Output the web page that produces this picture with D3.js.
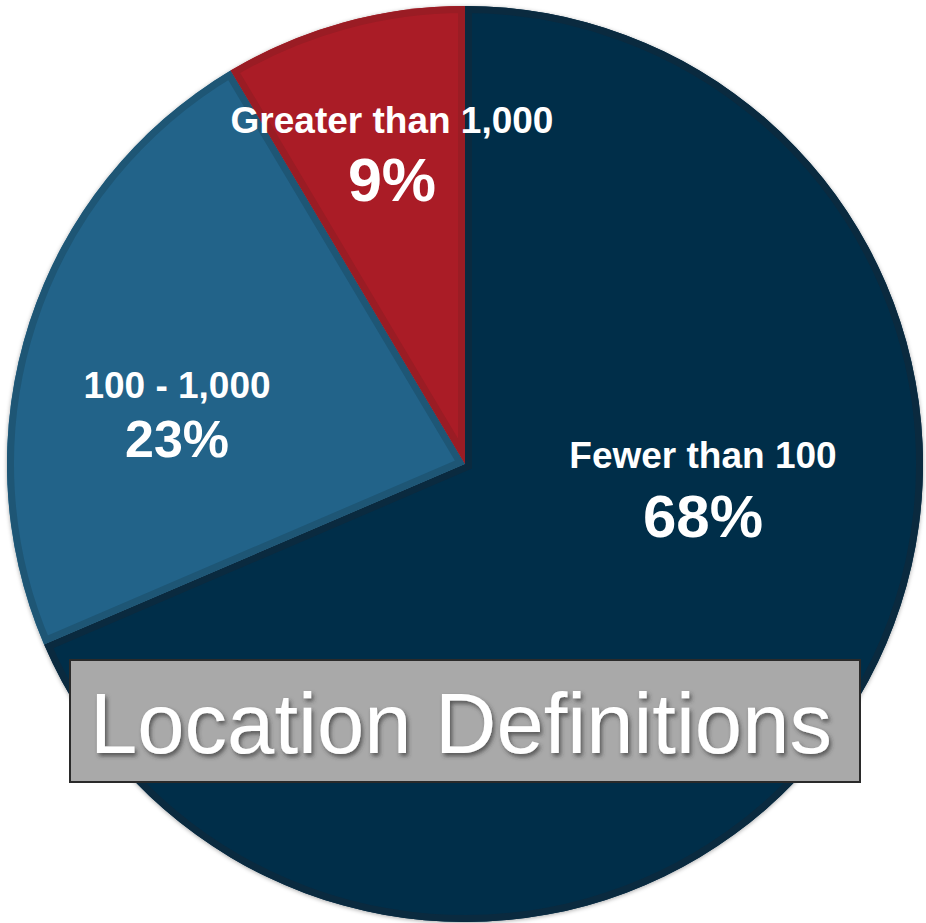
<!DOCTYPE html>
<html>
<head>
<meta charset="utf-8">
<script src="https://cdn.jsdelivr.net/npm/d3@7"></script>
<style>
  body { margin: 0; background: #fff; }
  text { font-family: "Liberation Sans", Arial, sans-serif; }
</style>
</head>
<body>
<script>
// slice data
var categories = ["Fewer than 100", "100 - 1,000", "Greater than 1,000"];
var shares = [68, 23, 9];              // printed percentages
var sliceValues = [68.55, 22.9, 8.55]; // slice sizes as drawn in the picture
var colors = ["#042f4a", "#236489", "#aa1f27"];
var edgeColors = ["#0a2a3f", "#1e5675", "#9a1c24"];
var title = "Location Definitions";

// label anchor spots (center x, baseline of name line)
var labelPos = [[703, 468], [177, 398], [392, 133]];
var pctSize = [60, 52, 61];
var pctGap = [69, 59, 68];

var width = 926,
    height = 923,
    cx = 465,
    cy = 464,
    radius = 458;

var svg = d3.select("body")
    .append("svg")
    .attr("width", width)
    .attr("height", height);

var defs = svg.append("defs");

// soft shadow for the title text
var sh = defs.append("filter").attr("id", "txtShadow")
    .attr("x", "-10%").attr("y", "-10%").attr("width", "120%").attr("height", "130%");
sh.append("feDropShadow")
    .attr("dx", 2).attr("dy", 3).attr("stdDeviation", 2)
    .attr("flood-color", "#333").attr("flood-opacity", 0.7);

var pieShadow = defs.append("filter").attr("id", "pieShadow")
    .attr("x", "-5%").attr("y", "-5%").attr("width", "110%").attr("height", "110%");
pieShadow.append("feDropShadow")
    .attr("dx", 0).attr("dy", 1).attr("stdDeviation", 2)
    .attr("flood-color", "#000").attr("flood-opacity", 0.35);

var pie = d3.pie().sort(null).value(function(d){ return d; });
var arcs = pie(sliceValues);

var arc = d3.arc().innerRadius(0).outerRadius(radius);

var g = svg.append("g")
    .attr("transform", "translate(" + cx + "," + cy + ")");

// clip paths so the darker rim sits inside each slice
defs.selectAll("clipPath.slice")
    .data(arcs)
    .enter()
    .append("clipPath")
    .attr("class", "slice")
    .attr("id", function(d, i){ return "clip" + i; })
    .append("path")
    .attr("transform", "translate(" + cx + "," + cy + ")")
    .attr("d", arc);

g.selectAll(".slice")
    .data(arcs)
    .enter()
    .append("path")
    .attr("class", "slice")
    .attr("d", arc)
    .attr("fill", function(d, i){ return colors[i]; })
    .attr("filter", "url(#pieShadow)");

svg.selectAll(".rim")
    .data(arcs)
    .enter()
    .append("g")
    .attr("clip-path", function(d, i){ return "url(#clip" + i + ")"; })
    .append("path")
    .attr("class", "rim")
    .attr("transform", "translate(" + cx + "," + cy + ")")
    .attr("d", arc)
    .attr("fill", "none")
    .attr("stroke", function(d, i){ return edgeColors[i]; })
    .attr("stroke-width", 14)
    .attr("stroke-linejoin", "miter");

// slice labels
var labels = svg.selectAll(".lbl")
    .data(arcs)
    .enter()
    .append("g")
    .attr("class", "lbl")
    .attr("transform", function(d, i){ return "translate(" + labelPos[i][0] + "," + labelPos[i][1] + ")"; });

labels.append("text")
    .attr("text-anchor", "middle")
    .attr("font-weight", "bold")
    .attr("font-size", 37)
    .attr("fill", "#fff")
    .text(function(d, i){ return categories[i]; });

labels.append("text")
    .attr("text-anchor", "middle")
    .attr("font-weight", "bold")
    .attr("font-size", function(d, i){ return pctSize[i]; })
    .attr("y", function(d, i){ return pctGap[i]; })
    .attr("fill", "#fff")
    .text(function(d, i){ return shares[i] + "%"; });

// title box
svg.append("rect")
    .attr("x", 70)
    .attr("y", 660)
    .attr("width", 790)
    .attr("height", 122)
    .attr("fill", "#a9a9a9")
    .attr("stroke", "#2a2a2a")
    .attr("stroke-width", 2);

svg.append("text")
    .attr("x", 461)
    .attr("y", 753)
    .attr("text-anchor", "middle")
    .attr("font-size", 85)
    .attr("fill", "#fff")
    .attr("filter", "url(#txtShadow)")
    .text(title);
</script>
</body>
</html>
